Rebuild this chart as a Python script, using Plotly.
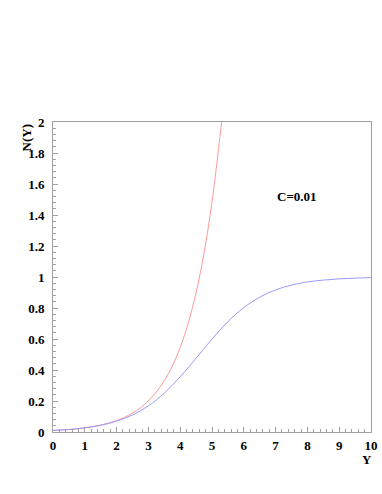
import plotly.graph_objects as go

# values
y_red = [0, 0.25, 0.5, 0.75, 1, 1.25, 1.5, 1.75, 2, 2.25, 2.5, 2.75, 3,
         3.25, 3.5, 3.75, 4, 4.25, 4.5, 4.75, 5, 5.25, 5.3]
n_red = [0.010, 0.013, 0.016, 0.021, 0.027, 0.035, 0.045, 0.058, 0.074, 0.095,
         0.122, 0.156, 0.201, 0.258, 0.331, 0.425, 0.546, 0.701, 0.900, 1.156,
         1.484, 1.905, 2.0]

y_blue = [0, 0.5, 1, 1.5, 2, 2.5, 3, 3.5, 4, 4.5, 5, 5.5, 6, 6.5, 7, 7.5,
          8, 8.5, 9, 9.5, 10]
n_blue = [0.010, 0.016, 0.027, 0.043, 0.070, 0.110, 0.169, 0.251, 0.356, 0.476,
          0.600, 0.712, 0.803, 0.870, 0.917, 0.948, 0.968, 0.980, 0.988, 0.993, 0.996]

x_ticks = [0, 1, 2, 3, 4, 5, 6, 7, 8, 9, 10]
y_ticks = [0, 0.2, 0.4, 0.6, 0.8, 1, 1.2, 1.4, 1.6, 1.8, 2]
y_ticklabels = ["0", "0.2", "0.4", "0.6", "0.8", "1", "1.2", "1.4", "1.6", "1.8", "2"]

label = "C=0.01"

serif = "Liberation Serif, Times New Roman, serif"
font = dict(family=serif, size=13, color="black")

fig = go.Figure()
fig.add_trace(go.Scatter(x=y_red, y=n_red, mode="lines", line_shape="spline",
                         line=dict(color="#ff9999", width=1)))
fig.add_trace(go.Scatter(x=y_blue, y=n_blue, mode="lines", line_shape="spline",
                         line=dict(color="#9999ff", width=1)))

axis_common = dict(showline=True, linecolor="#a0a0a0", linewidth=1, mirror=True,
                   showgrid=False, zeroline=False, automargin=False,
                   ticks="inside", tickcolor="#a0a0a0", ticklen=5, tickfont=font,
                   minor=dict(ticks="inside", ticklen=3, tickcolor="#a0a0a0", showgrid=False))

fig.update_xaxes(range=[0, 10], tickvals=x_ticks,
                 ticktext=["<b>%d</b>" % v for v in x_ticks],
                 minor_dtick=0.2, minor_tick0=0, ticklabelstandoff=1, **axis_common)
fig.update_yaxes(range=[0, 2], tickvals=y_ticks,
                 ticktext=["<b>%s</b>" % s for s in y_ticklabels],
                 minor_dtick=0.04, minor_tick0=0, ticklabelstandoff=5, **axis_common)

fig.add_annotation(x=7.67, y=1.52, xref="x", yref="y", text="<b>%s</b>" % label,
                   showarrow=False, font=font)
fig.add_annotation(x=0.987, y=-0.09, xref="paper", yref="paper", text="<b>Y</b>",
                   showarrow=False, font=font, xanchor="center", yanchor="middle")
fig.add_annotation(x=-0.082, y=1.0, xref="paper", yref="paper", text="<b>N(Y)</b>",
                   showarrow=False, font=font, textangle=-90, xanchor="center", yanchor="top")

fig.update_layout(width=382, height=494, showlegend=False,
                  plot_bgcolor="white", paper_bgcolor="white",
                  margin=dict(l=53, r=11, t=122, b=62))

# drop the browser's default body margin so the plot sits at the page corner
fig.write_html("out.html", config={"displayModeBar": False},
               post_script="document.body.style.margin='0';")
